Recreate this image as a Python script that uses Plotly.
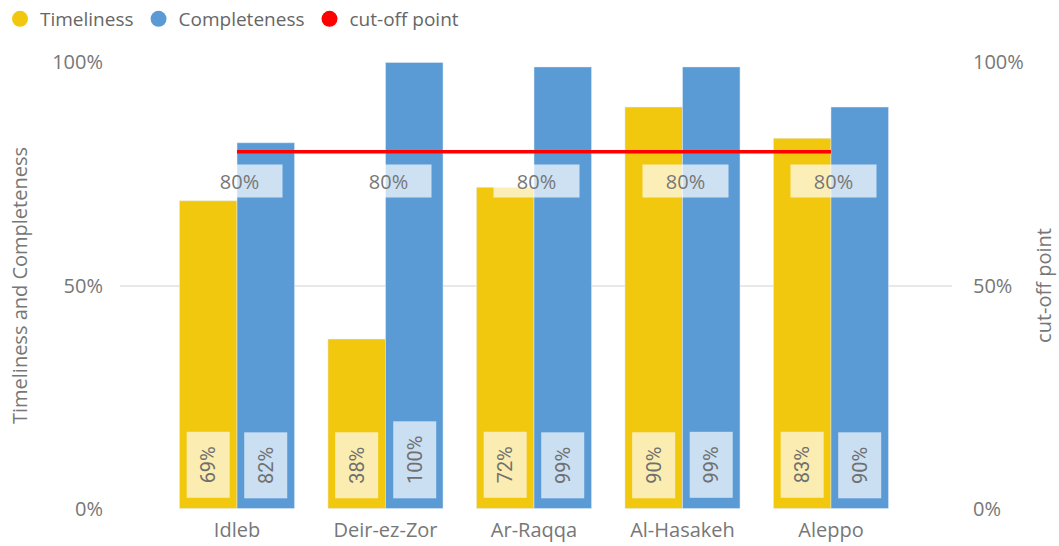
import plotly.graph_objects as go

categories = ["Idleb", "Deir-ez-Zor", "Ar-Raqqa", "Al-Hasakeh", "Aleppo"]
timeliness = [69, 38, 72, 90, 83]
completeness = [82, 100, 99, 99, 90]
cutoff = [80, 80, 80, 80, 80]
y_ticks = [0, 50, 100]
y_ticklabels = ["0%", "50%", "100%"]

YELLOW = "#F2C80F"
BLUE = "#5B9BD5"
RED = "#FF0000"
GRAY = "#777777"
FONT = "Open Sans"

idx = list(range(len(categories)))
bargap = 0.225
bw = (1 - bargap) / 2

fig = go.Figure()
fig.add_trace(go.Bar(x=idx, y=timeliness, marker_color=YELLOW, name="Timeliness",
                     showlegend=False, hoverinfo="skip"))
fig.add_trace(go.Bar(x=idx, y=completeness, marker_color=BLUE, name="Completeness",
                     showlegend=False, hoverinfo="skip"))
fig.add_trace(go.Scatter(x=idx, y=cutoff, mode="lines", line=dict(color=RED, width=3.5),
                         yaxis="y2", showlegend=False, hoverinfo="skip"))
# legend entries (circle markers)
for name, col in [("Timeliness", YELLOW), ("Completeness", BLUE), ("cut-off point", RED)]:
    fig.add_trace(go.Scatter(x=[None], y=[None], mode="markers", name=name,
                             marker=dict(color=col, size=20, symbol="circle")))

annotations = []
for series, off in [(timeliness, -bw / 2), (completeness, bw / 2)]:
    for i, v in enumerate(series):
        txt = f"{v}%"
        annotations.append(dict(
            x=i + off, y=0, xref="x", yref="y", text=txt, showarrow=False,
            textangle=-90, yanchor="bottom", xanchor="center", yshift=10,
            font=dict(family="Roboto", size=20, color="#707070"),
            bgcolor="rgba(255,255,255,0.68)", borderpad=4,
            width=11 * len(txt) + 24, height=34,
        ))
for i, v in enumerate(cutoff):
    annotations.append(dict(
        x=i + 0.02, y=v, xref="x", yref="y2", text=f"{v}%", showarrow=False,
        yanchor="top", xanchor="center", yshift=-12,
        font=dict(family=FONT, size=20, color=GRAY),
        bgcolor="rgba(255,255,255,0.7)", borderpad=4, width=77, height=24,
    ))

fig.update_layout(
    width=1059, height=546,
    margin=dict(l=120, r=107, t=62, b=37, autoexpand=False),
    paper_bgcolor="white", plot_bgcolor="white",
    barmode="group", bargap=bargap, bargroupgap=0,
    font=dict(family=FONT, size=20, color=GRAY),
    legend=dict(orientation="h", x=-0.004, y=1.0, xref="container", yref="container",
                xanchor="left", yanchor="top", font=dict(size=19, color="#666666"),
                itemwidth=30, tracegroupgap=0),
    xaxis=dict(tickmode="array", tickvals=idx, ticktext=categories,
               range=[-0.788, 4.815], showgrid=False, zeroline=False,
               tickfont=dict(size=20, color=GRAY), ticks="", automargin=False,
               ticklabelstandoff=7),
    yaxis=dict(range=[-0.1, 100.1], tickvals=y_ticks, ticktext=y_ticklabels,
               showgrid=True, gridcolor="#E8E8E8", gridwidth=2, zeroline=False,
               tickfont=dict(size=20, color=GRAY), ticklabelstandoff=16, automargin=False,
               title=dict(text="Timeliness and Completeness", font=dict(size=20, color=GRAY),
                          standoff=19)),
    yaxis2=dict(range=[-0.1, 100.1], tickvals=y_ticks, ticktext=y_ticklabels, overlaying="y",
                side="right", showgrid=False, zeroline=False, automargin=False,
                tickfont=dict(size=20, color=GRAY), ticklabelstandoff=20,
                title=dict(text="cut-off point", font=dict(size=20, color=GRAY), standoff=14)),
    annotations=annotations,
)

fig.write_html("out.html", config={"displayModeBar": False},
               post_script="document.body.style.margin='0';")
